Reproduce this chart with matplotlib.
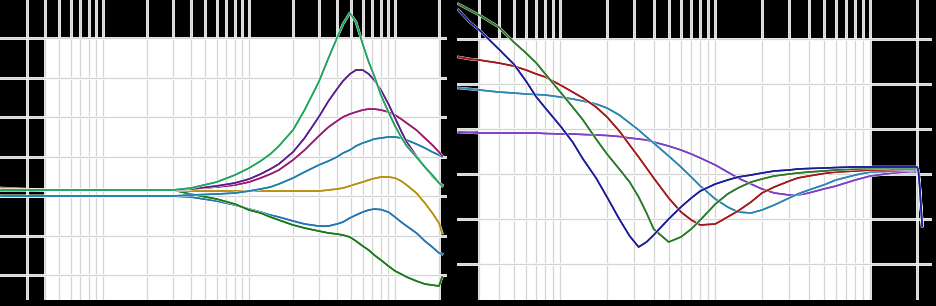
import matplotlib
matplotlib.use('Agg')
import matplotlib.pyplot as plt
import matplotlib.patheffects as pe
from matplotlib.patches import Rectangle

# ---- left panel (x: frequency, log; y: level, 5 per grid line) ----
f_left = [0.1, 0.2, 0.5, 1, 1.5, 2, 3, 4, 5, 6, 7, 8, 10, 12, 15, 17.5, 20, 22, 24.5, 27,
          30, 33, 36, 40, 45, 50, 55, 60, 70, 80, 90, 100, 105]
y_green = [0.76, 0.76, 0.76, 0.76, 0.76, 1.01, 1.77, 2.66, 3.54, 4.43, 5.32, 6.33, 8.35, 10.89, 14.43,
           17.47, 20.00, 21.77, 23.16, 22.03, 19.24, 16.96, 15.19, 12.78, 10.63, 8.86, 7.47, 6.33,
           4.94, 3.67, 2.66, 1.65, 1.27]
y_purple = [0.76, 0.76, 0.76, 0.76, 0.76, 0.89, 1.27, 1.65, 2.15, 2.78, 3.42, 4.05, 5.57, 7.34, 10.00,
            12.03, 13.54, 14.56, 15.44, 15.95, 15.95, 15.44, 14.68, 13.42, 11.65, 9.87, 8.23, 6.84,
            5.06, 3.67, 2.53, 1.65, 1.39]
y_magenta = [0.76, 0.76, 0.76, 0.76, 0.76, 0.89, 1.14, 1.39, 1.77, 2.28, 2.78, 3.29, 4.56, 5.82, 7.59,
             8.73, 9.49, 10.00, 10.38, 10.63, 10.89, 11.01, 11.01, 10.89, 10.63, 10.25, 9.75, 9.24,
             8.35, 7.34, 6.46, 5.57, 5.06]
y_teal = [0.0, 0.0, 0.0, 0.0, 0.0, 0.13, 0.25, 0.38, 0.63, 0.89, 1.14, 1.52, 2.28, 3.04, 3.92,
          4.43, 4.94, 5.44, 5.82, 6.33, 6.71, 6.96, 7.22, 7.34, 7.47, 7.47, 7.34, 7.09,
          6.58, 6.08, 5.57, 5.19, 4.94]
y_gold = [0.89, 0.76, 0.76, 0.76, 0.76, 0.63, 0.63, 0.63, 0.63, 0.63, 0.63, 0.63, 0.63, 0.63, 0.63,
          0.76, 0.89, 1.01, 1.27, 1.52, 1.77, 2.03, 2.22, 2.41, 2.41, 2.28, 1.90, 1.39,
          0.38, -0.89, -2.15, -3.42, -4.68]
y_blue = [0.0, 0.0, 0.0, 0.0, 0.0, -0.13, -0.63, -1.14, -1.65, -2.03, -2.41, -2.66, -3.16, -3.54, -3.80,
          -3.80, -3.54, -3.29, -2.78, -2.41, -2.03, -1.77, -1.65, -1.71, -2.03, -2.66, -3.29, -3.80,
          -4.68, -5.70, -6.46, -7.22, -7.34]
y_dkgreen = [1.01, 0.76, 0.76, 0.76, 0.76, 0.25, -0.38, -1.01, -1.77, -2.15, -2.66, -3.04, -3.67, -4.05, -4.43,
             -4.68, -4.81, -4.94, -5.19, -5.70, -6.33, -6.84, -7.47, -8.10, -8.86, -9.49, -9.87, -10.25,
             -10.76, -11.14, -11.27, -11.39, -10.25]

# ---- right panel (x: frequency, log; y: 1 per grid line) ----
f_right = [0.11, 0.13, 0.15, 0.2, 0.25, 0.3, 0.35, 0.4, 0.5, 0.6, 0.7, 0.85, 1, 1.2, 1.4, 1.6, 1.8, 2,
           2.5, 3, 3.5, 4, 5, 6, 7, 8.5, 10, 12, 15, 17, 20, 25, 30, 40, 50, 70, 100, 102, 104, 108]
y_navy = [3.644, 3.378, 3.2, 2.778, 2.444, 2.067, 1.711, 1.467, 1.067, 0.711, 0.333, -0.089, -0.511, -1.0,
          -1.378, -1.622, -1.511, -1.356, -1.0, -0.733, -0.533, -0.378, -0.222, -0.133, -0.067, -0.022,
          0.022, 0.067, 0.089, 0.111, 0.122, 0.133, 0.144, 0.156, 0.156, 0.156, 0.156, 0.089, -0.244, -1.156]
y_rgreen = [3.778, 3.644, 3.533, 3.267, 2.933, 2.689, 2.467, 2.222, 1.822, 1.489, 1.2, 0.778, 0.444, 0.111,
            -0.178, -0.511, -0.867, -1.222, -1.511, -1.4, -1.222, -1.022, -0.667, -0.444, -0.311, -0.178,
            -0.111, -0.044, 0.0, 0.022, 0.044, 0.067, 0.089, 0.111, 0.122, 0.133, 0.133, 0.067, -0.244, -1.067]
y_red = [2.6, 2.556, 2.533, 2.467, 2.4, 2.311, 2.222, 2.156, 1.978, 1.822, 1.689, 1.489, 1.267, 0.956,
         0.644, 0.378, 0.133, -0.089, -0.533, -0.844, -1.022, -1.133, -1.111, -0.956, -0.822, -0.622,
         -0.422, -0.289, -0.156, -0.089, -0.044, 0.011, 0.044, 0.067, 0.089, 0.1, 0.111, 0.044, -0.267, -1.067]
y_rteal = [1.911, 1.889, 1.867, 1.822, 1.8, 1.778, 1.767, 1.756, 1.711, 1.667, 1.622, 1.556, 1.467, 1.311,
           1.133, 0.978, 0.822, 0.689, 0.4, 0.156, -0.067, -0.267, -0.556, -0.733, -0.844, -0.867,
           -0.8, -0.689, -0.533, -0.444, -0.356, -0.244, -0.133, -0.022, 0.044, 0.067, 0.089, 0.022, -0.311, -1.133]
y_violet = [0.933, 0.922, 0.911, 0.911, 0.911, 0.911, 0.911, 0.9, 0.889, 0.889, 0.878, 0.867, 0.856, 0.833,
            0.8, 0.778, 0.756, 0.711, 0.622, 0.533, 0.444, 0.356, 0.2, 0.044, -0.089, -0.222,
            -0.333, -0.422, -0.467, -0.467, -0.422, -0.333, -0.267, -0.133, -0.044, 0.022, 0.067, 0.0, -0.311, -1.156]

grid_mult = [1, 1.5, 2, 2.5, 3, 3.5, 4, 4.5, 5]

W, H = 936, 306
fig = plt.figure(figsize=(W / 100, H / 100), dpi=100, facecolor='black')


def px_axes(x0, x1, y0, y1):
    return fig.add_axes([x0 / W, 1 - y1 / H, (x1 - x0) / W, (y1 - y0) / H])


def style(ax, xlim, ylim, xticks, yticks, white):
    ax.set_xscale('log')
    ax.set_xlim(*xlim)
    ax.set_ylim(*ylim)
    ax.set_facecolor('black')
    ax.add_patch(Rectangle((white[0], ylim[0]), white[1] - white[0], white[2] - ylim[0],
                           facecolor='white', edgecolor='none', zorder=0))
    ax.set_xticks(xticks)
    ax.set_xticks([], minor=True)
    ax.set_yticks(yticks)
    ax.set_axisbelow(True)
    ax.grid(True, color='#d4d4d4', lw=0.9)
    for ln in ax.get_xgridlines() + ax.get_ygridlines():
        ln.set_path_effects([pe.withStroke(linewidth=2.0, foreground='white')])
    ax.tick_params(length=0, labelbottom=False, labelleft=False)
    for s in ax.spines.values():
        s.set_visible(False)


def curve(ax, x, y, c):
    ax.plot(x, y, color=c, lw=1.15, solid_joinstyle='round',
            path_effects=[pe.withStroke(linewidth=1.9, foreground='white'), pe.Normal()])


# left
ax1 = px_axes(0, 447, 0, 300)
ticks1 = [m * d for d in [0.1, 1, 10] for m in grid_mult if m * d >= 0.15] + [100]
style(ax1, (0.0984, 113.4), (-13.16, 24.81), ticks1, [-10, -5, 0, 5, 10, 15, 20], (0.2, 100, 20))
curve(ax1, f_left, y_blue, '#2474b0')
curve(ax1, f_left, y_dkgreen, '#187a18')
curve(ax1, f_left, y_gold, '#b8900c')
curve(ax1, f_left, y_teal, '#1f7fae')
curve(ax1, f_left, y_magenta, '#9a1c6e')
curve(ax1, f_left, y_purple, '#5a1f8c')
curve(ax1, f_left, y_green, '#22a35e')

# right
ax2 = px_axes(457, 932, 0, 300)
ticks2 = [m * d for d in [0.1, 1, 10] for m in grid_mult if m * d >= 0.15] + [100]
style(ax2, (0.1077, 125.0), (-2.8, 3.867), ticks2, [-2, -1, 0, 1, 2, 3], (0.15, 50, 3))
curve(ax2, f_right, y_violet, '#7c3fc2')
curve(ax2, f_right, y_rteal, '#2a86b2')
curve(ax2, f_right, y_red, '#a31818')
curve(ax2, f_right, y_rgreen, '#2a7a2a')
curve(ax2, f_right, y_navy, '#1c1c96')

fig.savefig('out.png', dpi=100, facecolor='black')
